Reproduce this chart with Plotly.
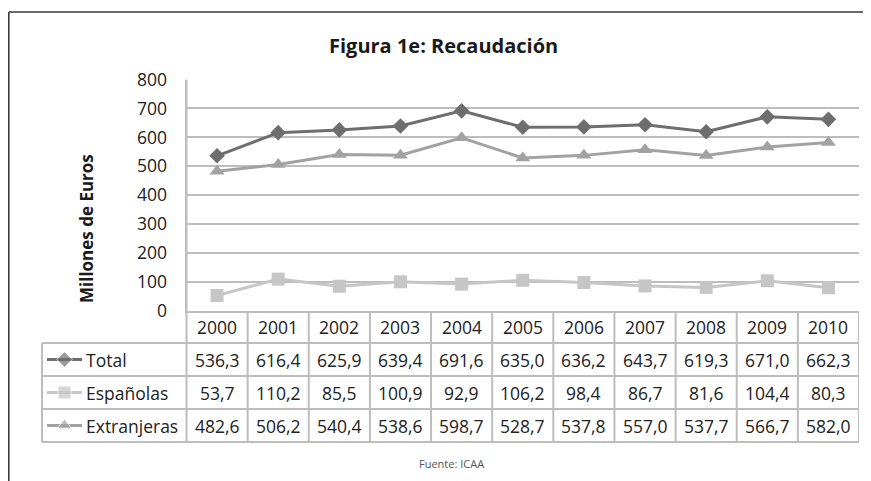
import plotly.graph_objects as go

# ---- data ----
years = ["2000", "2001", "2002", "2003", "2004", "2005", "2006", "2007", "2008", "2009", "2010"]
total = [536.3, 616.4, 625.9, 639.4, 691.6, 635.0, 636.2, 643.7, 619.3, 671.0, 662.3]
espanolas = [53.7, 110.2, 85.5, 100.9, 92.9, 106.2, 98.4, 86.7, 81.6, 104.4, 80.3]
extranjeras = [482.6, 506.2, 540.4, 538.6, 598.7, 528.7, 537.8, 557.0, 537.7, 566.7, 582.0]
series_names = ["Total", "Españolas", "Extranjeras"]
y_ticks = [0, 100, 200, 300, 400, 500, 600, 700, 800]

# the page puts the figure 8px in from the top-left corner of the window
OX, OY = 8, 8
W, H = 871 - OX, 481 - OY
FONT = "Open Sans"
TXT = "#222222"
GRID = "#bdbdbd"

colors = ["#6e6e6e", "#c6c6c6", "#a2a2a2"]
symbols = ["diamond", "square", "triangle-up"]
msizes = [12, 13, 13]
series = [total, espanolas, extranjeras]

# layout in window pixels
PL, PR, PT, PB = 186.5, 859.0, 79.5, 311.0
row_edges = [311.0, 343.0, 376.0, 409.0, 442.0]
TL = 42.0


def px(x):
    return (x - OX) / W


def py(y):
    return 1 - (y - OY) / H


fig = go.Figure()

idx = list(range(len(years)))
for name, vals, c, s, ms in zip(series_names, series, colors, symbols, msizes):
    fig.add_trace(go.Scatter(
        x=idx, y=vals, name=name, mode="lines+markers",
        line=dict(color=c, width=3),
        marker=dict(symbol=s, size=ms, color=c),
        showlegend=False, hoverinfo="skip",
    ))

# legend keys in the table (pixel axes covering the whole figure)
for i, (c, s, ms) in enumerate(zip(colors, symbols, msizes)):
    yc = (row_edges[i + 1] + row_edges[i + 2]) / 2
    fig.add_trace(go.Scatter(
        x=[47, 64.5, 82], y=[yc, yc, yc], mode="lines+markers",
        line=dict(color=c, width=3),
        marker=dict(symbol=s, size=[0, ms, 0], color=c),
        xaxis="x2", yaxis="y2", showlegend=False, hoverinfo="skip",
    ))

shapes = []
line_style = dict(color=GRID, width=2)
# horizontal table lines
for y in row_edges[1:]:
    shapes.append(dict(type="line", xref="paper", yref="paper",
                       x0=px(TL), x1=px(PR), y0=py(y), y1=py(y), line=line_style))
# vertical table lines
shapes.append(dict(type="line", xref="paper", yref="paper",
                   x0=px(TL), x1=px(TL), y0=py(row_edges[1]), y1=py(row_edges[-1]), line=line_style))
shapes.append(dict(type="line", xref="paper", yref="paper",
                   x0=px(PL), x1=px(PL), y0=py(PT), y1=py(row_edges[-1]), line=line_style))
for i in range(len(years)):
    shapes.append(dict(type="line", xref="x", yref="paper",
                       x0=i + 0.5, x1=i + 0.5, y0=py(row_edges[0]), y1=py(row_edges[-1]), line=line_style))
# outer frame (top and left)
shapes.append(dict(type="line", xref="paper", yref="paper",
                   x0=px(8.8), x1=1, y0=py(12), y1=py(12), line=dict(color="#3a3a3a", width=1.6)))
shapes.append(dict(type="line", xref="paper", yref="paper",
                   x0=px(8.8), x1=px(8.8), y0=py(12), y1=0, line=dict(color="#3a3a3a", width=1.6)))

annotations = []
cell_font = dict(family=FONT, size=17.5, color=TXT)
# header years
hy = (row_edges[0] + row_edges[1]) / 2
for i, yr in enumerate(years):
    annotations.append(dict(x=i, y=py(hy), xref="x", yref="paper", text=yr,
                            showarrow=False, font=cell_font, xanchor="center", yanchor="middle"))
# value rows
for r, (name, vals) in enumerate(zip(series_names, series)):
    yc = (row_edges[r + 1] + row_edges[r + 2]) / 2
    annotations.append(dict(x=px(84), y=py(yc), xref="paper", yref="paper", text=name,
                            showarrow=False, font=cell_font, xanchor="left", yanchor="middle"))
    for i, v in enumerate(vals):
        annotations.append(dict(x=i, y=py(yc), xref="x", yref="paper",
                                text=f"{v:.1f}".replace(".", ","),
                                showarrow=False, font=cell_font, xanchor="center", yanchor="middle"))
# title
annotations.append(dict(x=px(443), y=py(45), xref="paper", yref="paper",
                        text="<b>Figura 1e: Recaudación</b>", showarrow=False,
                        font=dict(family=FONT, size=20, color="#1a1a1a"),
                        xanchor="center", yanchor="middle"))
# y axis title
annotations.append(dict(x=px(87), y=py(229), xref="paper", yref="paper",
                        text="<b>Millones de Euros</b>", showarrow=False, textangle=-90,
                        font=dict(family=FONT, size=17, color="#1a1a1a"),
                        xanchor="center", yanchor="middle"))
# source
annotations.append(dict(x=px(451), y=py(463), xref="paper", yref="paper",
                        text="Fuente: ICAA", showarrow=False,
                        font=dict(family=FONT, size=11, color="#555555"),
                        xanchor="center", yanchor="middle"))

fig.update_layout(
    width=W, height=H,
    margin=dict(l=0, r=0, t=0, b=0, pad=0),
    paper_bgcolor="white", plot_bgcolor="rgba(0,0,0,0)",
    xaxis=dict(domain=[px(PL), px(PR)], range=[-0.5, len(years) - 0.5],
               showgrid=False, showticklabels=False, ticks="", zeroline=False,
               showline=True, linecolor=GRID, linewidth=2, fixedrange=True, automargin=False),
    yaxis=dict(domain=[py(PB), py(PT)], range=[0, 800], tickvals=y_ticks,
               showgrid=True, gridcolor=GRID, gridwidth=2, zeroline=False,
               showline=True, linecolor=GRID, linewidth=2,
               ticks="", ticklabelstandoff=14, automargin=False,
               tickfont=dict(family=FONT, size=17.5, color=TXT), fixedrange=True),
    xaxis2=dict(domain=[0, 1], range=[OX, OX + W], visible=False, anchor="y2",
                fixedrange=True, automargin=False),
    yaxis2=dict(domain=[0, 1], range=[OY + H, OY], visible=False, anchor="x2",
                fixedrange=True, automargin=False),
    shapes=shapes,
    annotations=annotations,
)

fig.write_html("out.html")
